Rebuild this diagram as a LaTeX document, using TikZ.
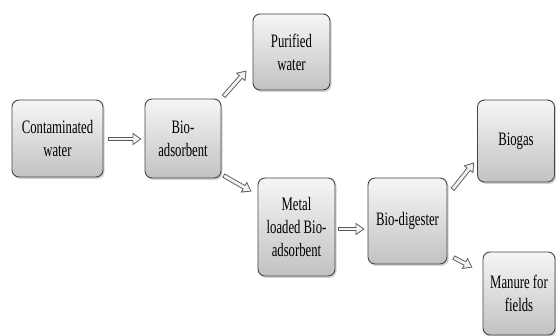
\documentclass[tikz,border=0pt]{standalone}
\usepackage{fontspec}
\setmainfont{Liberation Serif}[FakeStretch=0.67]
\usetikzlibrary{calc,shadows,arrows.meta}

\definecolor{boxtop}{HTML}{F6F6F6}
\definecolor{boxbot}{HTML}{C2C2C2}
\definecolor{boxline}{HTML}{454545}
\definecolor{pipeline}{HTML}{5A5A5A}
\definecolor{pipefill}{HTML}{F2F2F2}

\def\boxfont{\fontsize{19}{23}\selectfont}

\begin{document}
\begin{tikzpicture}[x=1pt,y=-1pt,
	stage/.style={draw=boxline,line width=0.9pt,rounded corners=7pt,
		top color=boxtop,bottom color=boxbot,align=center,font=\boxfont,
		inner sep=0pt,
		drop shadow={shadow xshift=1.5pt,shadow yshift=-2pt,opacity=0.35}},
	flow/.style={preaction={draw=pipeline,line width=4.6pt,shorten >=0pt,shorten <=0pt,
			-{Triangle[width=12pt,length=9pt]}},
		draw=pipefill,line width=2.8pt,shorten >=1.6pt,shorten <=0.9pt,
		-{Triangle[width=8.6pt,length=6.5pt]}}]

\useasboundingbox (0,0) rectangle (556,336);

\node[stage,minimum width=91pt,minimum height=77pt] (cont) at (57.5,138.5) {Contaminated\\water};
\node[stage,minimum width=76pt,minimum height=79pt] (bioads) at (183,138.5) {Bio-\\adsorbent};
\node[stage,minimum width=77pt,minimum height=76pt] (purified) at (291.5,52) {Purified\\water};
\node[stage,minimum width=77pt,minimum height=98pt] (metal) at (296.5,227) {Metal\\loaded Bio-\\adsorbent};
\node[stage,minimum width=79pt,minimum height=86pt] (digester) at (407.5,221) {Bio-digester};
\node[stage,minimum width=77pt,minimum height=82pt] (biogas) at (516,141) {Biogas};
\node[stage,minimum width=72pt,minimum height=83pt] (manure) at (519,293.5) {Manure for\\fields};

\draw[flow] ($(cont.east)+(5,0.5)$) -- ($(bioads.west)+(-3,0.5)$);
\draw[flow] ($(bioads.north east)+(2,-2)$) -- ($(purified.south west)+(-6,-20)$);
\draw[flow] ($(bioads.south east)+(2,-3)$) -- ($(metal.north west)+(-6,14)$);
\draw[flow] ($(metal.east)+(3,2)$) -- ($(metal.east -| digester.west)+(-3,2)$);
\draw[flow] ($(digester.north east)+(5,12)$) -- ($(biogas.south west)+(-3,-20)$);
\draw[flow] ($(digester.south east)+(6,-7)$) -- ($(manure.north west)+(-10,16)$);

\end{tikzpicture}
\end{document}
